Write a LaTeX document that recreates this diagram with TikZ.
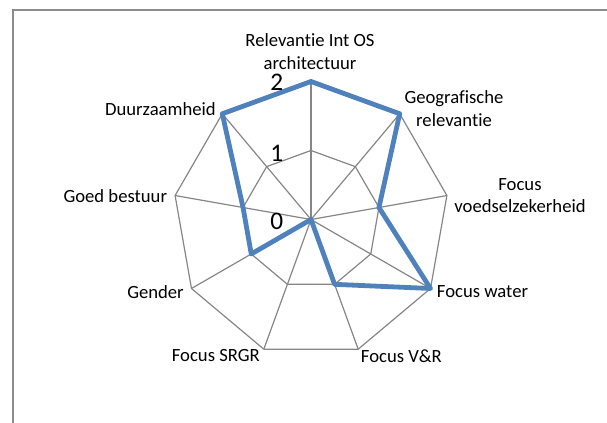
\documentclass[tikz,border=0pt]{standalone}
\usepackage{fontspec}
\setmainfont{Carlito}[Ligatures={NoCommon}]
\definecolor{gridgray}{HTML}{868686}
\definecolor{seriesblue}{HTML}{4F81BD}
\definecolor{framegray}{HTML}{8C8C8C}
\begin{document}
\begin{tikzpicture}[x=0.75pt,y=-0.75pt,
  gridline/.style={draw=gridgray, line width=0.9pt},
  series/.style={draw=seriesblue, line width=3.6pt, line join=round},
  lbl/.style={font=\fontsize{14}{17}\selectfont, inner sep=0pt, align=center},
  ticklbl/.style={font=\fontsize{19}{22}\selectfont, inner sep=0pt}]
\useasboundingbox (0,0) rectangle (607,423);
% frame
\draw[framegray, line width=1.5pt] (13,423) -- (13,10) -- (607,10);
% coordinates
\coordinate (o) at (311,219.5);
\foreach \k in {0,...,8} {
  \coordinate (a\k) at ({311+138*sin(40*\k)},{219.5-138*cos(40*\k)});
  \coordinate (b\k) at ({311+69*sin(40*\k)},{219.5-69*cos(40*\k)});
}
% grid
\draw[gridline] (a0) -- (a1) -- (a2) -- (a3) -- (a4) -- (a5) -- (a6) -- (a7) -- (a8) -- cycle;
\draw[gridline] (b0) -- (b1) -- (b2) -- (b3) -- (b4) -- (b5) -- (b6) -- (b7) -- (b8) -- cycle;
\foreach \k in {0,...,8} { \draw[gridline] (o) -- (a\k); }
% series
\draw[series] (a0) -- (a1) -- (b2) -- (a3) -- (b4) -- (o) -- (b6) -- (b7) -- (a8) -- cycle;
% tick labels
\node[ticklbl] (t2) at (276.7,82.5) {2};
\node[ticklbl] (t1) at (276.7,153.3) {1};
\node[ticklbl] (t0) at (276.7,221.7) {0};
% category labels
\node[lbl] (l0) at (310,51.3) {Relevantie Int OS\\architectuur};
\node[lbl] (l1) at (454,108.7) {Geografische\\relevantie};
\node[lbl] (l2) at (520,195.5) {Focus\\voedselzekerheid};
\node[lbl, anchor=west] (l3) at (436.7,291.7) {Focus water};
\node[lbl, anchor=west] (l4) at (360.7,356) {Focus V\&R};
\node[lbl, anchor=east] (l5) at (260,356) {Focus SRGR};
\node[lbl, anchor=east] (l6) at (184,292) {Gender};
\node[lbl, anchor=east] (l7) at (167.3,196) {Goed bestuur};
\node[lbl, anchor=east] (l8) at (216,109.3) {Duurzaamheid};
\end{tikzpicture}
\end{document}
